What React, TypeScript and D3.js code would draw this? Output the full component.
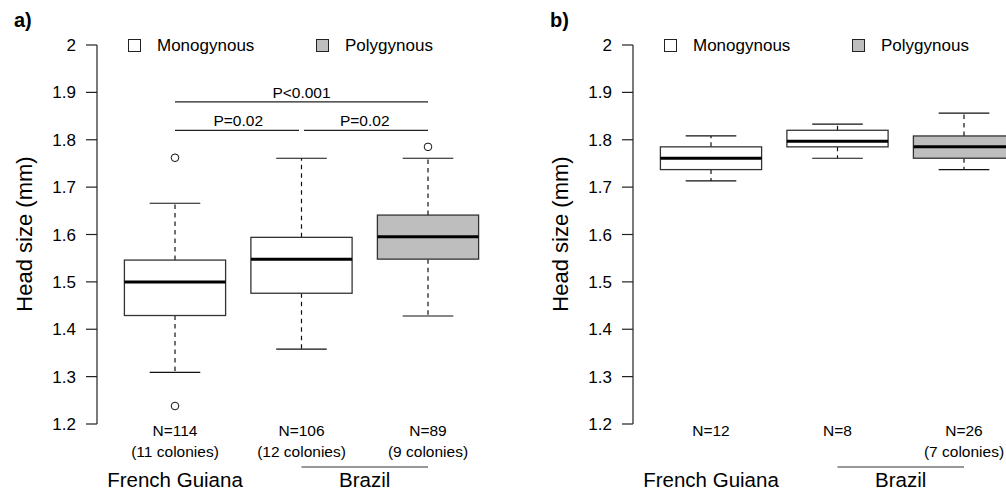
import React from "react";
import * as d3 from "d3";

// ---- data ----
const categories = ["French Guiana", "Brazil", "Brazil"];
const colonyType = ["Monogynous", "Monogynous", "Polygynous"];
const legendLabels = ["Monogynous", "Polygynous"];
const yTicks = [1.2, 1.3, 1.4, 1.5, 1.6, 1.7, 1.8, 1.9, 2.0];
const yTickLabels = ["1.2", "1.3", "1.4", "1.5", "1.6", "1.7", "1.8", "1.9", "2"];

// Panel a
const aLow = [1.309, 1.358, 1.428];
const aQ1 = [1.429, 1.476, 1.548];
const aMedian = [1.5, 1.548, 1.595];
const aQ3 = [1.546, 1.594, 1.641];
const aHigh = [1.666, 1.761, 1.761];
const aOutliers = [[1.762, 1.238], [], [1.785]];
const aNLabels = ["N=114", "N=106", "N=89"];
const aColonyLabels = ["(11 colonies)", "(12 colonies)", "(9 colonies)"];
const aTests = [
  { from: 1, to: 3, label: "P<0.001", y: 1.88 },
  { from: 1, to: 2, label: "P=0.02", y: 1.82 },
  { from: 2, to: 3, label: "P=0.02", y: 1.82 },
];

// Panel b
const bLow = [1.713, 1.761, 1.737];
const bQ1 = [1.737, 1.785, 1.761];
const bMedian = [1.761, 1.797, 1.785];
const bQ3 = [1.785, 1.82, 1.808];
const bHigh = [1.808, 1.833, 1.856];
const bOutliers = [[], [], []];
const bNLabels = ["N=12", "N=8", "N=26"];
const bColonyLabels = ["", "", "(7 colonies)"];

const FONT = "'Liberation Sans', Arial, Helvetica, sans-serif";
const fillFor = (t: string) => (t === "Polygynous" ? "#bebebe" : "#ffffff");

type PanelProps = {
  offset: number;
  tag: string;
  low: number[];
  q1: number[];
  median: number[];
  q3: number[];
  high: number[];
  outliers: number[][];
  nLabels: string[];
  colonyLabels: string[];
  tests: { from: number; to: number; label: string; y: number }[];
};

function Panel(p: PanelProps) {
  const axisX = 97;
  const y = d3.scaleLinear().domain([1.2, 2.0]).range([424, 45]);
  const x = d3.scaleLinear().domain([1, 3]).range([175, 428]);
  const step = x(2) - x(1);
  const boxW = step * 0.8;
  const capW = step * 0.4;
  const idx = [0, 1, 2];
  return (
    <g transform={`translate(${p.offset},0)`}>
      <text x={14} y={27} fontSize={20} fontWeight="bold" fontFamily={FONT}>
        {p.tag}
      </text>
      {/* y axis */}
      <line x1={axisX} x2={axisX} y1={y(2)} y2={y(1.2)} stroke="#222" strokeWidth={1.2} />
      {yTicks.map((t, i) => (
        <g key={i}>
          <line x1={axisX - 11} x2={axisX} y1={y(t)} y2={y(t)} stroke="#222" strokeWidth={1.2} />
          <text x={76} y={y(t)} dy="0.36em" textAnchor="end" fontSize={17} fontFamily={FONT}>
            {yTickLabels[i]}
          </text>
        </g>
      ))}
      <text
        transform={`translate(32,234) rotate(-90)`}
        textAnchor="middle"
        fontSize={22}
        fontFamily={FONT}
      >
        Head size (mm)
      </text>
      {/* legend */}
      {legendLabels.map((l, i) => {
        const lx = 128 + i * 188;
        return (
          <g key={l}>
            <rect x={lx + 0.5} y={39.5} width={12} height={12} fill={fillFor(l)} stroke="#222" strokeWidth={1} />
            <text x={lx + 29} y={45} dy="0.36em" fontSize={17} fontFamily={FONT}>
              {l}
            </text>
          </g>
        );
      })}
      {/* boxes */}
      {idx.map((i) => {
        const cx = x(i + 1);
        return (
          <g key={i}>
            <line x1={cx} x2={cx} y1={y(p.q3[i])} y2={y(p.high[i])} stroke="#111" strokeWidth={1.2} strokeDasharray="4.5,4" />
            <line x1={cx} x2={cx} y1={y(p.q1[i])} y2={y(p.low[i])} stroke="#111" strokeWidth={1.2} strokeDasharray="4.5,4" />
            <line x1={cx - capW / 2} x2={cx + capW / 2} y1={y(p.high[i])} y2={y(p.high[i])} stroke="#111" strokeWidth={1.2} />
            <line x1={cx - capW / 2} x2={cx + capW / 2} y1={y(p.low[i])} y2={y(p.low[i])} stroke="#111" strokeWidth={1.2} />
            <rect
              x={cx - boxW / 2}
              y={y(p.q3[i])}
              width={boxW}
              height={y(p.q1[i]) - y(p.q3[i])}
              fill={fillFor(colonyType[i])}
              stroke="#333"
              strokeWidth={1.3}
            />
            <line x1={cx - boxW / 2} x2={cx + boxW / 2} y1={y(p.median[i])} y2={y(p.median[i])} stroke="#000" strokeWidth={3} />
            {p.outliers[i].map((o, j) => (
              <circle key={j} cx={cx} cy={y(o)} r={3.8} fill="#fff" stroke="#111" strokeWidth={1} />
            ))}
            <text x={cx} y={436} textAnchor="middle" fontSize={15.5} fontFamily={FONT}>
              {p.nLabels[i]}
            </text>
            {p.colonyLabels[i] && (
              <text x={cx} y={457} textAnchor="middle" fontSize={15.5} fontFamily={FONT}>
                {p.colonyLabels[i]}
              </text>
            )}
          </g>
        );
      })}
      {/* significance */}
      {p.tests.map((t, i) => {
        const gap = t.to - t.from === 1 ? 2.5 : 0;
        const x1 = x(t.from) + (t.from === 2 ? gap : 0);
        const x2 = x(t.to) - (t.to === 2 ? gap : 0);
        return (
          <g key={i}>
            <line x1={x1} x2={x2} y1={y(t.y)} y2={y(t.y)} stroke="#222" strokeWidth={1.2} />
            <text x={(x(t.from) + x(t.to)) / 2} y={y(t.y) - 4} textAnchor="middle" fontSize={15.5} fontFamily={FONT}>
              {t.label}
            </text>
          </g>
        );
      })}
      {/* country labels */}
      <text x={x(1)} y={487} textAnchor="middle" fontSize={20.5} fontFamily={FONT}>
        {categories[0]}
      </text>
      <line x1={x(2)} x2={x(3)} y1={467} y2={467} stroke="#333" strokeWidth={1.2} />
      <text x={(x(2) + x(3)) / 2} y={487} textAnchor="middle" fontSize={20.5} fontFamily={FONT}>
        {categories[1]}
      </text>
    </g>
  );
}

export default function App() {
  return (
    <svg
      width={1006}
      height={495}
      style={{ position: "absolute", left: 0, top: 0, background: "#fff" }}
    >
      <rect width={1006} height={495} fill="#fff" />
      <Panel
        offset={0}
        tag="a)"
        low={aLow}
        q1={aQ1}
        median={aMedian}
        q3={aQ3}
        high={aHigh}
        outliers={aOutliers}
        nLabels={aNLabels}
        colonyLabels={aColonyLabels}
        tests={aTests}
      />
      <Panel
        offset={536}
        tag="b)"
        low={bLow}
        q1={bQ1}
        median={bMedian}
        q3={bQ3}
        high={bHigh}
        outliers={bOutliers}
        nLabels={bNLabels}
        colonyLabels={bColonyLabels}
        tests={[]}
      />
    </svg>
  );
}
